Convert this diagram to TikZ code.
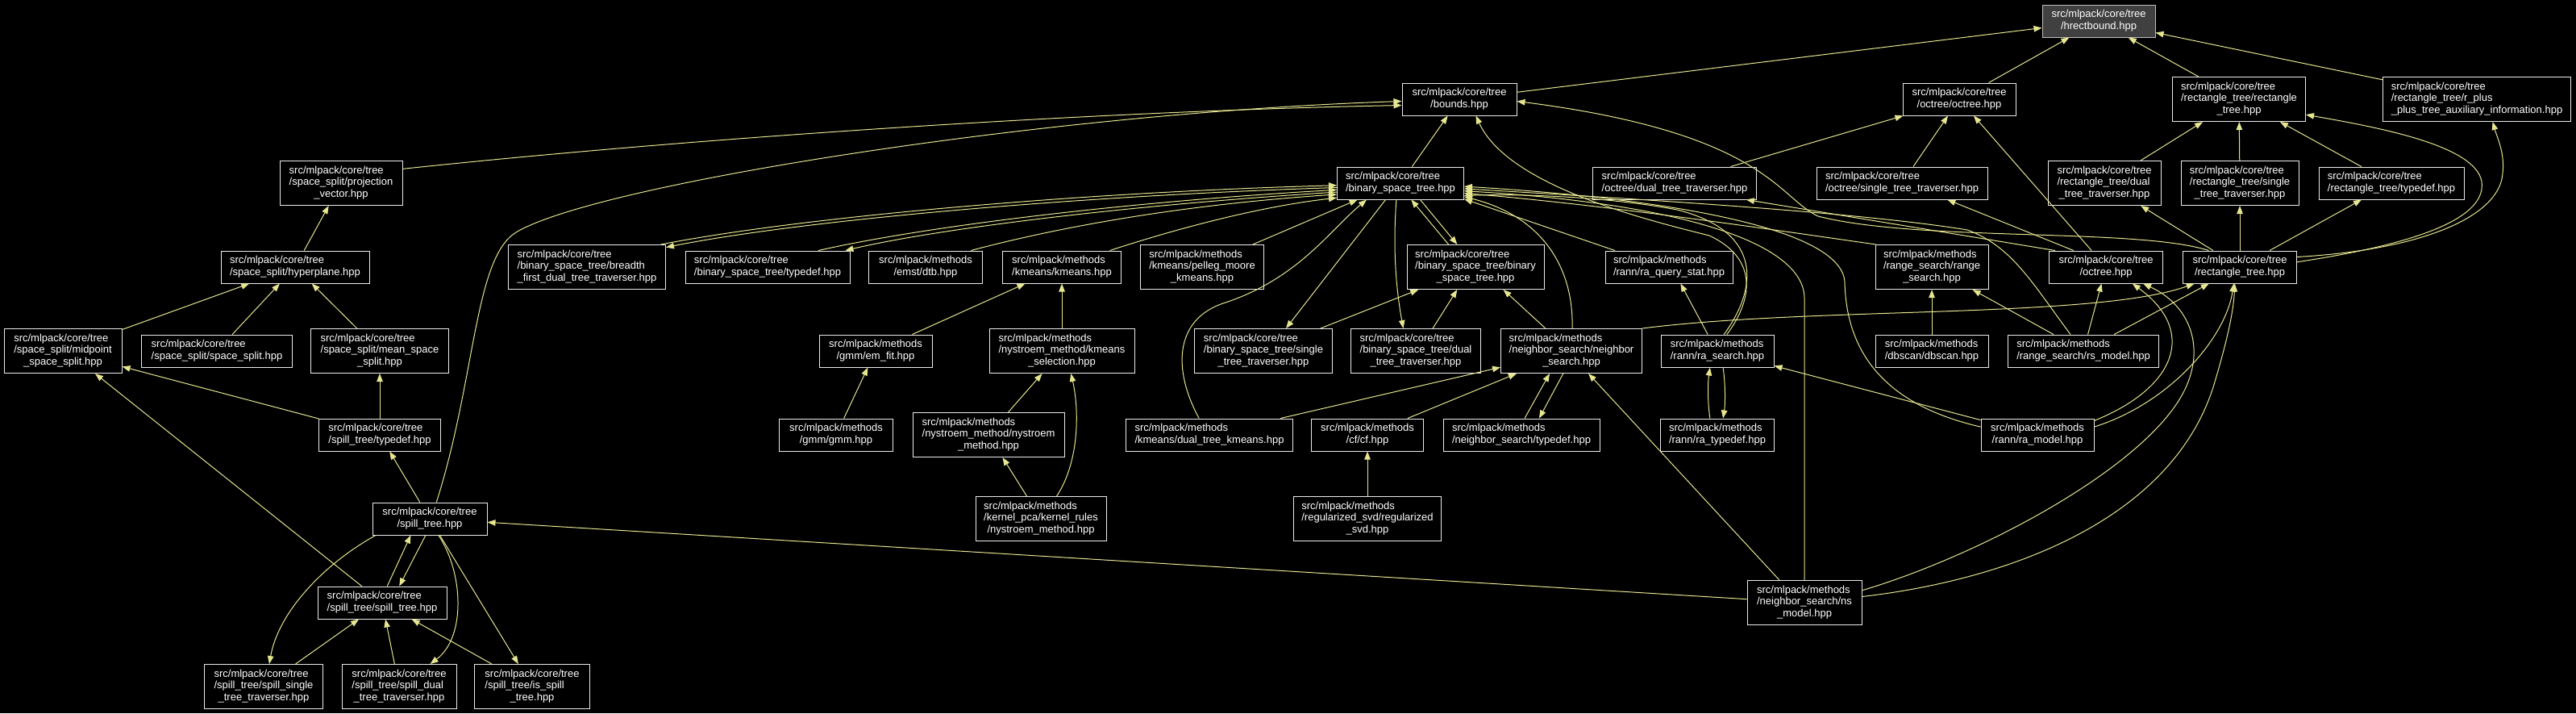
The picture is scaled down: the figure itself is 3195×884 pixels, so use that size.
\documentclass[tikz,border=0pt]{standalone}
\usepackage{fontspec}
\setmainfont{Liberation Sans}
\usetikzlibrary{arrows.meta}
\definecolor{edgeyellow}{HTML}{E6E691}
\definecolor{rootgray}{HTML}{404040}
\definecolor{rootline}{HTML}{BFBFBF}
\newcommand\ctree{src/mlpack/core/tree}
\newcommand\cmeth{src/mlpack/methods}
\newcommand\fname[2]{\begin{tabular}{@{}l@{}}#1\\\multicolumn{1}{@{}c@{}}{#2}\end{tabular}}
\tikzset{file/.style={draw=white!92!black,fill=black,text=white,line width=1pt,inner sep=0pt,font=\fontsize{13}{14.5}\selectfont},
twoline/.style={minimum height=40pt},threeline/.style={minimum height=55pt},
inc/.style={draw=edgeyellow,line width=1pt,-{Triangle[length=10pt,width=7.5pt]}}}

\begin{document}
\begin{tikzpicture}[x=1pt,y=-1pt]
\useasboundingbox (0,0) rectangle (3195,884);
\fill[black] (0,0) rectangle (3195,884);
% row 0 and 1
\node[file,twoline,fill=rootgray,draw=rootline,minimum width=140] (hrect) at (2603,26) {\fname{\ctree}{/hrectbound.hpp}};
\node[file,twoline,minimum width=142] (bounds) at (1810,123) {\fname{\ctree}{/bounds.hpp}};
\node[file,twoline,minimum width=140] (octoct) at (2430,123) {\fname{\ctree}{/octree/octree.hpp}};
\node[file,threeline,minimum width=165] (rectrect) at (2777,123) {\fname{\ctree\\/rectangle\_tree/rectangle}{\_tree.hpp}};
\node[file,threeline,minimum width=233] (rplus) at (3072,123) {\fname{\ctree\\/rectangle\_tree/r\_plus}{\_plus\_tree\_auxiliary\_information.hpp}};
% row 2
\node[file,threeline,minimum width=152] (projvec) at (423,227) {\fname{\ctree\\/space\_split/projection}{\_vector.hpp}};
\node[file,twoline,minimum width=157] (bst) at (1737,227) {\fname{\ctree}{/binary\_space\_tree.hpp}};
\node[file,twoline,minimum width=203] (octdual) at (2077,227) {\fname{\ctree}{/octree/dual\_tree\_traverser.hpp}};
\node[file,twoline,minimum width=212] (octsingle) at (2359,227) {\fname{\ctree}{/octree/single\_tree\_traverser.hpp}};
\node[file,threeline,minimum width=140] (rectdual) at (2610,227) {\fname{\ctree\\/rectangle\_tree/dual}{\_tree\_traverser.hpp}};
\node[file,threeline,minimum width=146] (rectsingle) at (2778,227) {\fname{\ctree\\/rectangle\_tree/single}{\_tree\_traverser.hpp}};
\node[file,twoline,minimum width=180] (recttypedef) at (2966,227) {\fname{\ctree}{/rectangle\_tree/typedef.hpp}};
% row 3
\node[file,twoline,minimum width=184] (hyperplane) at (366,331) {\fname{\ctree}{/space\_split/hyperplane.hpp}};
\node[file,threeline,minimum width=195] (breadth) at (728,331) {\fname{\ctree\\/binary\_space\_tree/breadth}{\_first\_dual\_tree\_traverser.hpp}};
\node[file,twoline,minimum width=204] (bsttypedef) at (952,331) {\fname{\ctree}{/binary\_space\_tree/typedef.hpp}};
\node[file,twoline,minimum width=141] (dtb) at (1148,331) {\fname{\cmeth}{/emst/dtb.hpp}};
\node[file,twoline,minimum width=147] (kmeans) at (1317,331) {\fname{\cmeth}{/kmeans/kmeans.hpp}};
\node[file,threeline,minimum width=153] (pelleg) at (1491,331) {\fname{\cmeth\\/kmeans/pelleg\_moore}{\_kmeans.hpp}};
\node[file,threeline,minimum width=170] (bstbst) at (1830,331) {\fname{\ctree\\/binary\_space\_tree/binary}{\_space\_tree.hpp}};
\node[file,twoline,minimum width=158] (raquery) at (2070,331) {\fname{\cmeth}{/rann/ra\_query\_stat.hpp}};
\node[file,threeline,minimum width=140] (rangesearch) at (2396,331) {\fname{\cmeth\\/range\_search/range}{\_search.hpp}};
\node[file,twoline,minimum width=141] (octree) at (2612,331) {\fname{\ctree}{/octree.hpp}};
\node[file,twoline,minimum width=141] (rectangle) at (2778,331) {\fname{\ctree}{/rectangle\_tree.hpp}};
% row 4
\node[file,threeline,minimum width=146] (midpoint) at (78,435) {\fname{\ctree\\/space\_split/midpoint}{\_space\_split.hpp}};
\node[file,twoline,minimum width=187] (spacesplit) at (269,435) {\fname{\ctree}{/space\_split/space\_split.hpp}};
\node[file,threeline,minimum width=171] (meansplit) at (471,435) {\fname{\ctree\\/space\_split/mean\_space}{\_split.hpp}};
\node[file,twoline,minimum width=140] (emfit) at (1086,435) {\fname{\cmeth}{/gmm/em\_fit.hpp}};
\node[file,threeline,minimum width=180] (kmeanssel) at (1317,435) {\fname{\cmeth\\/nystroem\_method/kmeans}{\_selection.hpp}};
\node[file,threeline,minimum width=171] (bstsingle) at (1567,435) {\fname{\ctree\\/binary\_space\_tree/single}{\_tree\_traverser.hpp}};
\node[file,threeline,minimum width=161] (bstdual) at (1756,435) {\fname{\ctree\\/binary\_space\_tree/dual}{\_tree\_traverser.hpp}};
\node[file,threeline,minimum width=175] (neighbor) at (1949,435) {\fname{\cmeth\\/neighbor\_search/neighbor}{\_search.hpp}};
\node[file,twoline,minimum width=140] (rasearch) at (2130,435) {\fname{\cmeth}{/rann/ra\_search.hpp}};
\node[file,twoline,minimum width=140] (dbscan) at (2396,435) {\fname{\cmeth}{/dbscan/dbscan.hpp}};
\node[file,twoline,minimum width=187] (rsmodel) at (2584,435) {\fname{\cmeth}{/range\_search/rs\_model.hpp}};
% row 5
\node[file,twoline,minimum width=151] (spilltypedef) at (471,539) {\fname{\ctree}{/spill\_tree/typedef.hpp}};
\node[file,twoline,minimum width=141] (gmm) at (1037,539) {\fname{\cmeth}{/gmm/gmm.hpp}};
\node[file,threeline,minimum width=188] (nystroem) at (1226,539) {\fname{\cmeth\\/nystroem\_method/nystroem}{\_method.hpp}};
\node[file,twoline,minimum width=207] (dualkmeans) at (1500,539) {\fname{\cmeth}{/kmeans/dual\_tree\_kmeans.hpp}};
\node[file,twoline,minimum width=139] (cf) at (1696,539) {\fname{\cmeth}{/cf/cf.hpp}};
\node[file,twoline,minimum width=194] (nstypedef) at (1887,539) {\fname{\cmeth}{/neighbor\_search/typedef.hpp}};
\node[file,twoline,minimum width=141] (ratypedef) at (2130,539) {\fname{\cmeth}{/rann/ra\_typedef.hpp}};
\node[file,twoline,minimum width=140] (ramodel) at (2527,539) {\fname{\cmeth}{/rann/ra\_model.hpp}};
% rows 6 to 8
\node[file,twoline,minimum width=142] (spilltree) at (533,643) {\fname{\ctree}{/spill\_tree.hpp}};
\node[file,threeline,minimum width=162] (kernelrules) at (1291,643) {\fname{\cmeth\\/kernel\_pca/kernel\_rules}{/nystroem\_method.hpp}};
\node[file,threeline,minimum width=183] (regsvd) at (1696,643) {\fname{\cmeth\\/regularized\_svd/regularized}{\_svd.hpp}};
\node[file,twoline,minimum width=160] (spillspill) at (474,747) {\fname{\ctree}{/spill\_tree/spill\_tree.hpp}};
\node[file,threeline,minimum width=142] (nsmodel) at (2238,747) {\fname{\cmeth\\/neighbor\_search/ns}{\_model.hpp}};
\node[file,threeline,minimum width=147] (spillsingle) at (327,851) {\fname{\ctree\\/spill\_tree/spill\_single}{\_tree\_traverser.hpp}};
\node[file,threeline,minimum width=142] (spilldual) at (495,851) {\fname{\ctree\\/spill\_tree/spill\_dual}{\_tree\_traverser.hpp}};
\node[file,threeline,minimum width=143] (isspill) at (660,851) {\fname{\ctree\\/spill\_tree/is\_spill}{\_tree.hpp}};
% straight includes
\foreach \a/\b in {bounds/hrect,octoct/hrect,rectrect/hrect,rplus/hrect,bst/bounds,
  hyperplane/projvec,midpoint/hyperplane,spacesplit/hyperplane,meansplit/hyperplane,
  spilltypedef/midpoint,spilltypedef/meansplit,spilltree/spilltypedef,spillsingle/spillspill,
  spilldual/spillspill,isspill/spillspill,spilltree/isspill,nsmodel/spilltree,
  bstsingle/bstbst,emfit/kmeans,gmm/emfit,kmeanssel/kmeans,nystroem/kmeanssel,
  kernelrules/nystroem,dualkmeans/neighbor,cf/neighbor,regsvd/cf,ramodel/rasearch,
  dbscan/rangesearch,rsmodel/rangesearch,octdual/octoct,octsingle/octoct,octree/octoct,
  rectdual/rectrect,rectsingle/rectrect,recttypedef/rectrect,rectangle/rectdual,
  rectangle/rectsingle,rectangle/recttypedef,rsmodel/octree,rsmodel/rectangle}
  \draw[inc] (\a) -- (\b);
% bounds
\draw[inc] (projvec.13) .. controls (850,172) and (1350,138) .. (bounds.186);
\draw[inc] (spilltree.68) .. controls (590,470) and (588,320) .. (640,288) .. controls (740,228) and (1300,140) .. (bounds.182);
\draw[inc] (rectangle.152) .. controls (2650,282) and (2380,300) .. (2255,268) .. controls (2205,245) and (2190,165) .. (bounds.-2);
\draw[inc] (rasearch.60) .. controls (2175,370) and (2180,320) .. (2120,292) .. controls (2040,272) and (1870,230) .. (bounds.-45);
% spill tree
\draw[inc] (spillspill.141) -- (midpoint.-35);
\draw[inc] (spillspill.73) -- (spilltree.221);
\draw[inc] (spilltree.-104) -- (spillspill.44);
\draw[inc] (spilltree.197) .. controls (400,700) and (345,760) .. (spillsingle.76);
\draw[inc] (spilltree.-62) .. controls (575,710) and (578,790) .. (spilldual.36);
% binary space tree
\draw[inc] (breadth.17) .. controls (1000,268) and (1350,238) .. (bst.182);
\draw[inc] (bst.184) .. controls (1350,242) and (1000,272) .. (breadth.14);
\draw[inc] (bsttypedef.18) .. controls (1150,280) and (1400,250) .. (bst.186);
\draw[inc] (bst.188) .. controls (1400,254) and (1160,284) .. (bsttypedef.12);
\draw[inc] (dtb.20) .. controls (1300,285) and (1450,255) .. (bst.190);
\draw[inc] (kmeans.19) .. controls (1470,280) and (1570,255) .. (bst.193);
\draw[inc] (pelleg.24) -- (bst.201);
\draw[inc] (dualkmeans.122) .. controls (1455,460) and (1455,395) .. (1520,375) .. controls (1610,345) and (1650,285) .. (bst.206);
\draw[inc] (bstbst.140) -- (bst.-57);
\draw[inc] (bst.-40) -- (bstbst.129);
\draw[inc] (bst.228) -- (bstsingle.45);
\draw[inc] (bst.256) .. controls (1728,300) and (1730,350) .. (bstdual.119);
\draw[inc] (bstdual.53) -- (bstbst.231);
\draw[inc] (neighbor.139) -- (bstbst.-39);
\draw[inc] (neighbor.88) .. controls (1952,340) and (1920,270) .. (bst.-12);
\draw[inc] (raquery.163) -- (bst.-14);
\draw[inc] (rasearch.68) .. controls (2185,350) and (2180,285) .. (2080,260) .. controls (2000,245) and (1900,240) .. (bst.-11);
\draw[inc] (rangesearch.158) .. controls (2200,285) and (2000,255) .. (bst.-9);
\draw[inc] (rsmodel.128) .. controls (2520,350) and (2495,305) .. (2440,285) .. controls (2300,262) and (2000,245) .. (bst.-5);
\draw[inc] (ramodel.172) .. controls (2330,500) and (2290,430) .. (2288,350) .. controls (2285,280) and (2050,245) .. (bst.-3);
\draw[inc] (nsmodel.north) -- (2238,370) .. controls (2238,300) and (2080,252) .. (bst.-7);
% neighbor search and rann
\draw[inc] (kernelrules.55) .. controls (1340,570) and (1338,505) .. (kmeanssel.-68);
\draw[inc] (nstypedef.79) -- (neighbor.226);
\draw[inc] (neighbor.250) -- (nstypedef.43);
\draw[inc] (nsmodel.138) -- (neighbor.-53);
\draw[inc] (ratypedef.114) .. controls (2118,500) and (2118,475) .. (rasearch.246);
\draw[inc] (rasearch.-71) .. controls (2140,475) and (2140,500) .. (ratypedef.71);
\draw[inc] (rasearch.120) -- (raquery.-55);
% octree and rectangle tree
\draw[inc] (octree.162) -- (octdual.-13);
\draw[inc] (octree.153) -- (octsingle.-20);
\draw[inc] (rectangle.5) .. controls (2980,305) and (3085,275) .. (3078,225) .. controls (3070,180) and (2950,158) .. (rectrect.-13);
\draw[inc] (rectangle.10) .. controls (3000,310) and (3100,270) .. (3104,215) .. controls (3107,190) and (3097,170) .. (rplus.-55);
\draw[inc] (ramodel.14) .. controls (2700,480) and (2725,410) .. (octree.-32);
\draw[inc] (ramodel.8) .. controls (2690,500) and (2760,420) .. (rectangle.250);
\draw[inc] (nsmodel.12) .. controls (2450,690) and (2640,590) .. (2700,500) .. controls (2740,440) and (2720,380) .. (octree.-24);
\draw[inc] (nsmodel.6) .. controls (2480,720) and (2690,650) .. (2745,480) .. controls (2760,430) and (2770,390) .. (rectangle.253);
\draw[inc] (neighbor.north east) .. controls (2250,380) and (2600,395) .. (rectangle.200);
\end{tikzpicture}
\end{document}
